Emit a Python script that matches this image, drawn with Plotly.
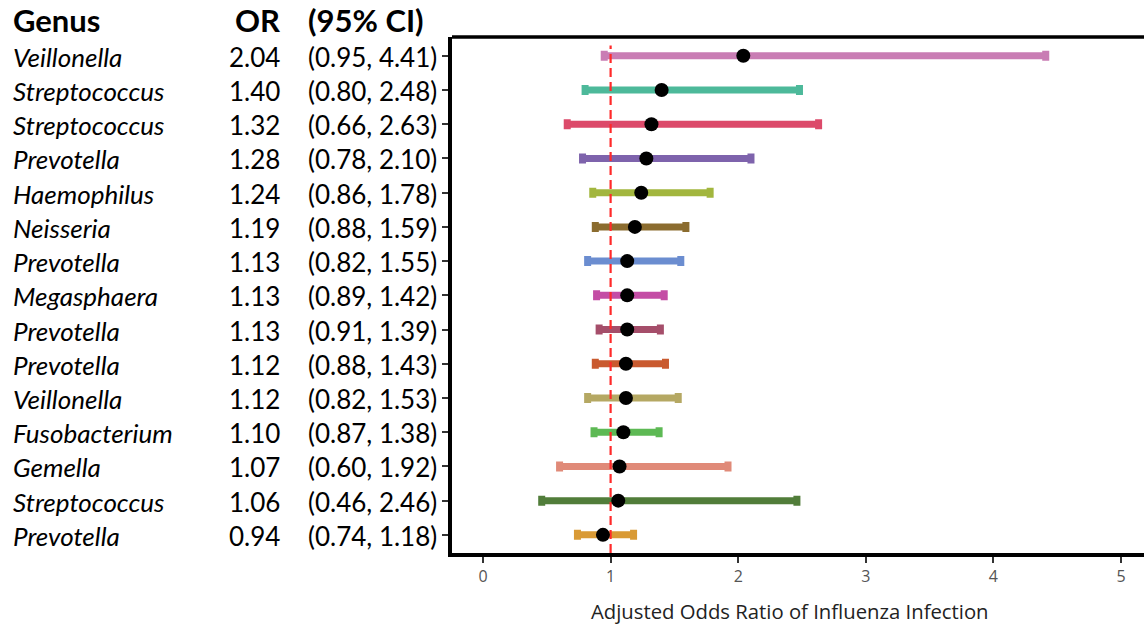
import plotly.graph_objects as go

genus = ["Veillonella", "Streptococcus", "Streptococcus", "Prevotella", "Haemophilus",
         "Neisseria", "Prevotella", "Megasphaera", "Prevotella", "Prevotella",
         "Veillonella", "Fusobacterium", "Gemella", "Streptococcus", "Prevotella"]
odds = [2.04, 1.40, 1.32, 1.28, 1.24, 1.19, 1.13, 1.13, 1.13, 1.12, 1.12, 1.10, 1.07, 1.06, 0.94]
lower = [0.95, 0.80, 0.66, 0.78, 0.86, 0.88, 0.82, 0.89, 0.91, 0.88, 0.82, 0.87, 0.60, 0.46, 0.74]
upper = [4.41, 2.48, 2.63, 2.10, 1.78, 1.59, 1.55, 1.42, 1.39, 1.43, 1.53, 1.38, 1.92, 2.46, 1.18]
colors = ["#C97DB4", "#4DB99A", "#DC4A6A", "#7E63AC", "#A2B63E", "#8B6C2F", "#6B8DD0",
          "#C44DA5", "#A54E6A", "#C95A2F", "#B5A863", "#5DB954", "#E08A78", "#517D3A", "#D99A35"]
x_ticks = [0, 1, 2, 3, 4, 5]

W, H = 1144, 627
L, R, T, B = 452, 0, 37, 74
n = len(genus)
ypos = [n - 1 - i for i in range(n)]

fig = go.Figure()

for i in range(n):
    fig.add_trace(go.Scatter(
        x=[odds[i]], y=[ypos[i]], mode="markers",
        marker=dict(size=1, color="rgba(0,0,0,0)"),
        error_x=dict(type="data", symmetric=False,
                     array=[upper[i] - odds[i]], arrayminus=[odds[i] - lower[i]],
                     color=colors[i], thickness=7, width=5),
        hoverinfo="skip", showlegend=False))

# reference line at OR = 1
fig.add_trace(go.Scatter(x=[1, 1], y=[-0.53, 14.3], mode="lines",
                         line=dict(color="#FF2A2A", width=2.2, dash="9px,5px"),
                         hoverinfo="skip", showlegend=False))

fig.add_trace(go.Scatter(x=odds, y=ypos, mode="markers",
                         marker=dict(size=14, color="black"),
                         showlegend=False))

pw = W - L - R
ph = H - T - B
def px(xp):
    return (xp - L) / pw

font_txt = "Lato, Carlito, Calibri, sans-serif"
FS = 26
anns = []
for i in range(n):
    anns.append(dict(x=px(11), y=ypos[i], xref="paper", yref="y", text="<i>%s</i>" % genus[i],
                     showarrow=False, xanchor="left", yanchor="middle", yshift=-1,
                     font=dict(family=font_txt, size=FS, color="black")))
    anns.append(dict(x=px(282), y=ypos[i], xref="paper", yref="y", text="%.2f" % odds[i],
                     showarrow=False, xanchor="right", yanchor="middle", yshift=-1,
                     font=dict(family=font_txt, size=FS, color="black")))
    anns.append(dict(x=px(306), y=ypos[i], xref="paper", yref="y",
                     text="(%.2f, %.2f)" % (lower[i], upper[i]),
                     showarrow=False, xanchor="left", yanchor="middle", yshift=-1,
                     font=dict(family=font_txt, size=FS, color="black")))

hdr_y = 1 + (T - 20) / ph
for txt, xx, anc in [("<b>Genus</b>", 11, "left"), ("<b>OR</b>", 282, "right"),
                     ("<b>(95% CI)</b>", 306, "left")]:
    anns.append(dict(x=px(xx), y=hdr_y, xref="paper", yref="paper", text=txt,
                     showarrow=False, xanchor=anc, yanchor="middle",
                     font=dict(family=font_txt, size=31, color="black")))

anns.append(dict(x=(790 - L) / pw, y=-(611 - (H - B)) / ph, xref="paper", yref="paper",
                 text="Adjusted Odds Ratio of Influenza Infection", showarrow=False,
                 xanchor="center", yanchor="middle",
                 font=dict(family="Open Sans, sans-serif", size=20.3, color="#222")))

shapes = [dict(type="line", xref="paper", yref="paper", x0=0, x1=1, y0=1, y1=1,
               line=dict(color="black", width=3.5))]

fig.update_layout(
    width=W, height=H, margin=dict(l=L, r=R, t=T, b=B),
    plot_bgcolor="white", paper_bgcolor="white",
    annotations=anns, shapes=shapes,
    xaxis=dict(range=[-0.243, 5.18], tickvals=x_ticks, ticks="outside", ticklen=6,
               tickwidth=2, tickcolor="#333", showgrid=False, zeroline=False,
               showline=True, linecolor="black", linewidth=3.5,
               tickfont=dict(family="Open Sans, sans-serif", size=16, color="#555")),
    yaxis=dict(range=[-0.53, 14.55], tickvals=ypos, showticklabels=False,
               ticks="outside", ticklen=6, tickwidth=2, tickcolor="#333",
               showgrid=False, zeroline=False, showline=True, linecolor="black",
               linewidth=3.5),
)

fig.write_html("out.html", config={"displayModeBar": False},
               post_script="document.body.style.margin='0';document.body.style.overflow='hidden';")
